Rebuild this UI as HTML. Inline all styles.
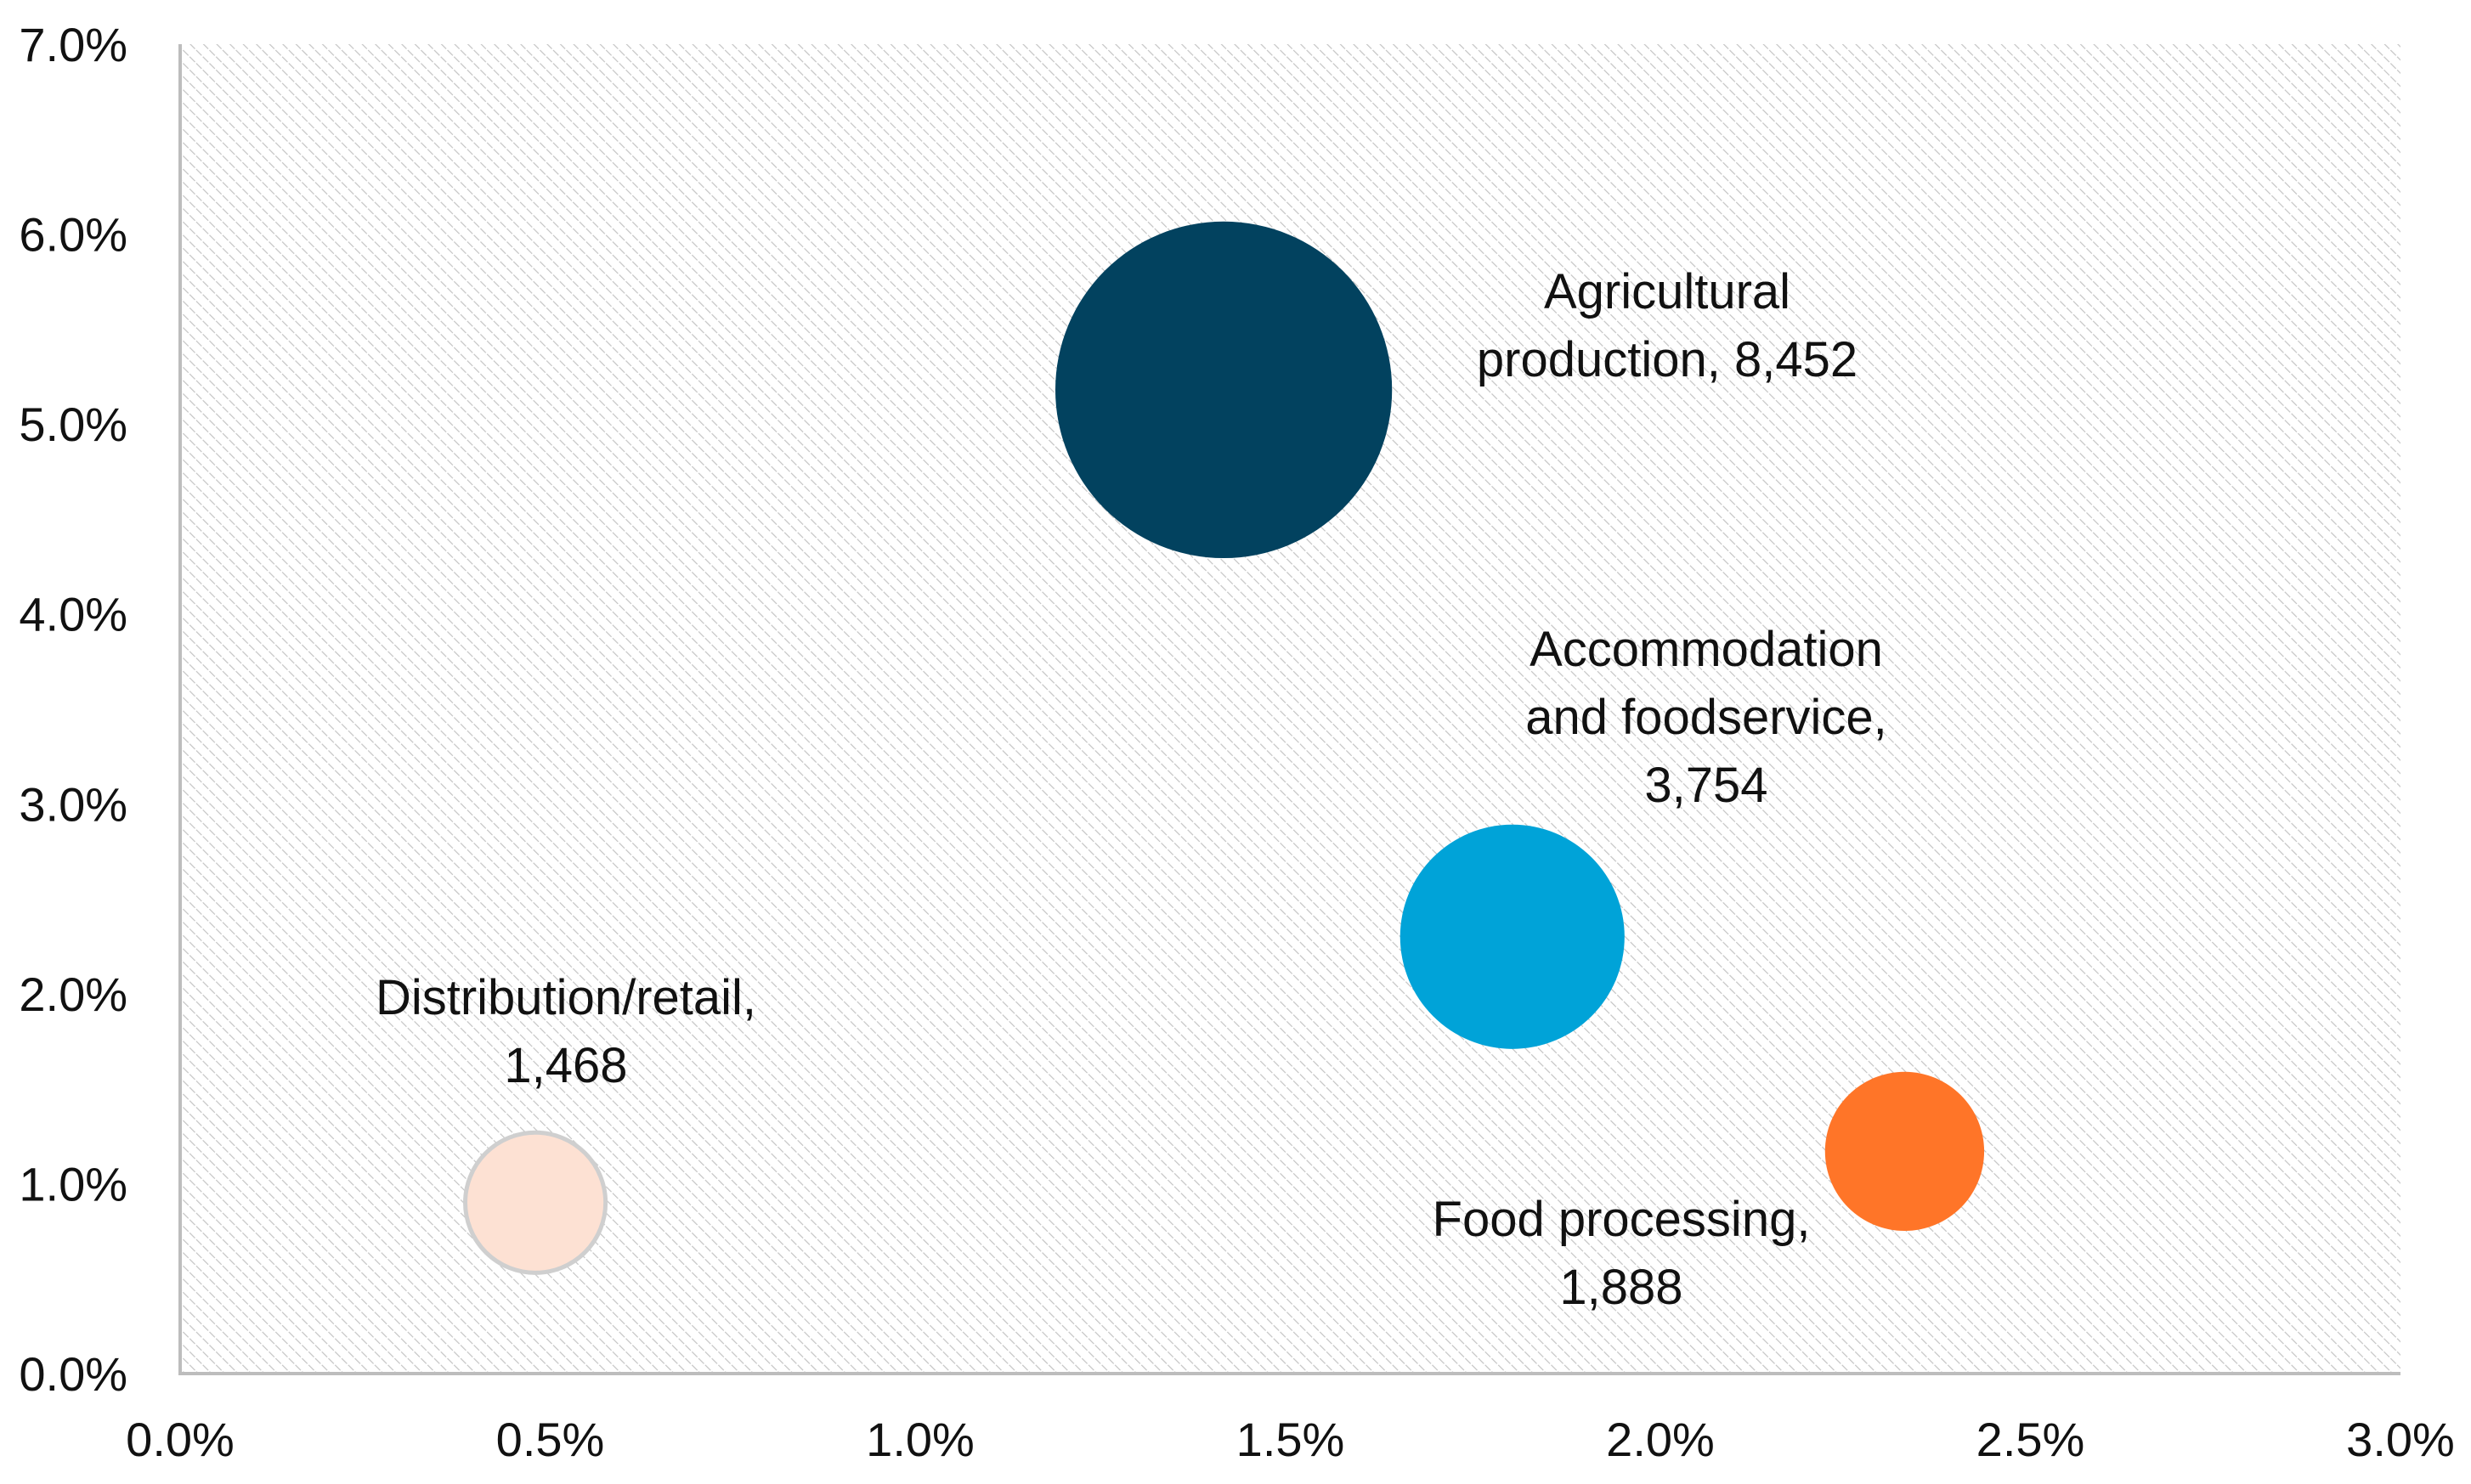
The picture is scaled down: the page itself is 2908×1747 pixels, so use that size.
<!DOCTYPE html>
<html><head><meta charset="utf-8"><style>
html,body{margin:0;padding:0;background:#fff;}
svg{display:block;}
text{font-family:"Liberation Sans",sans-serif;fill:#111;}
</style></head><body>
<svg id="chart" width="2908" height="1747" viewBox="0 0 2908 1747" xmlns="http://www.w3.org/2000/svg">
<defs>
<pattern id="hatch" patternUnits="userSpaceOnUse" width="11" height="11" patternTransform="rotate(-45)">
<rect width="11" height="11" fill="#ffffff"/>
<line x1="0" y1="0" x2="0" y2="11" stroke="#c4c4c4" stroke-width="2.4" stroke-dasharray="5 2"/>
</pattern>
</defs>
<rect x="212" y="52" width="2613" height="1565" fill="url(#hatch)"/>
<g id="marks"></g>
<line x1="212" y1="52" x2="212" y2="1619" stroke="#bdbdbd" stroke-width="4"/>
<line x1="210" y1="1617" x2="2825" y2="1617" stroke="#bdbdbd" stroke-width="4"/>
<g id="ticks"></g>
</svg>
<script>
const categories = ["Agricultural production", "Accommodation and foodservice", "Food processing", "Distribution/retail"];
const xValues = [1.41, 1.80, 2.33, 0.48];
const yValues = [5.18, 2.30, 1.17, 0.90];
const sizes = [8452, 3754, 1888, 1468];
const colors = ["#02425F", "#00A3D8", "#FF7528", "#FDE1D3"];
const labelLines = [["Agricultural", "production,  8,452"], ["Accommodation", "and foodservice,", "3,754"], ["Food processing,", "1,888"], ["Distribution/retail,", "1,468"]];
const labelPos = [[1962, 343], [2008, 764], [1908, 1435], [666, 1174]];
const xTicks = [0, 0.5, 1, 1.5, 2, 2.5, 3];
const yTicks = [0, 1, 2, 3, 4, 5, 6, 7];

const NS = "http://www.w3.org/2000/svg";
const X0 = 212, X1 = 2825, Y0 = 1617, Y1 = 52;
function xs(v){ return X0 + (v / 3) * (X1 - X0); }
function ys(v){ return Y0 - (v / 7) * (Y0 - Y1); }
function rs(s){ return 2.155 * Math.sqrt(s); }

const marks = document.getElementById('marks');
categories.forEach((c, i) => {
  const circ = document.createElementNS(NS, 'circle');
  circ.setAttribute('cx', xs(xValues[i]));
  circ.setAttribute('cy', ys(yValues[i]));
  circ.setAttribute('r', rs(sizes[i]));
  circ.setAttribute('fill', colors[i]);
  if (i === 3) { circ.setAttribute('stroke', '#cfcfcf'); circ.setAttribute('stroke-width', '5'); }
  
  
  marks.appendChild(circ);
  const t = document.createElementNS(NS, 'text');
  t.setAttribute('text-anchor', 'middle');
  t.setAttribute('font-size', '58');
  
  
  labelLines[i].forEach((ln, j) => {
    const ts = document.createElementNS(NS, 'tspan');
    ts.setAttribute('x', labelPos[i][0]);
    ts.setAttribute('y', labelPos[i][1] + j * 80 + 20);
    ts.textContent = ln;
    t.appendChild(ts);
  });
  marks.appendChild(t);
});

const ticks = document.getElementById('ticks');
xTicks.forEach(v => {
  const t = document.createElementNS(NS, 'text');
  t.setAttribute('x', xs(v));
  t.setAttribute('y', 1714);
  t.setAttribute('text-anchor', 'middle');
  t.setAttribute('font-size', '56');
  
  
  t.textContent = v.toFixed(1) + '%';
  ticks.appendChild(t);
});
yTicks.forEach(v => {
  const t = document.createElementNS(NS, 'text');
  t.setAttribute('x', 150);
  t.setAttribute('y', ys(v) + 20);
  t.setAttribute('text-anchor', 'end');
  t.setAttribute('font-size', '56');
  
  
  t.textContent = v.toFixed(1) + '%';
  ticks.appendChild(t);
});
</script>
</body></html>
